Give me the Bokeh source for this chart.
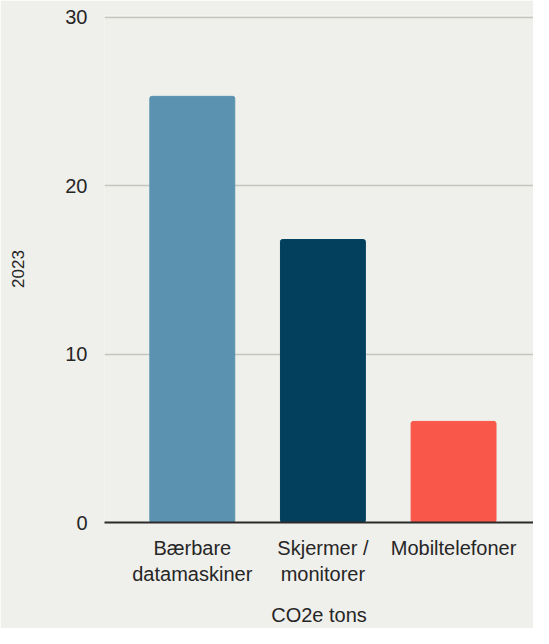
from bokeh.plotting import figure
from bokeh.embed import file_html
from bokeh.resources import INLINE
from bokeh.models import ColumnDataSource, FixedTicker, Range1d

categories = ["Bærbare\ndatamaskiner", "Skjermer /\nmonitorer", "Mobiltelefoner"]
values = [25.3, 16.8, 6.0]
colors = ["#5b92af", "#02405e", "#f8574a"]
y_ticks = [0, 10, 20, 30]
x_title = "CO2e tons"
y_title = "2023"

idx = list(range(len(categories)))
src = ColumnDataSource(dict(x=idx, top=values, color=colors))

FONT = "Liberation Sans"
BG = "#efefeb"

p = figure(width=533, height=628, output_backend="svg", toolbar_location=None,
           x_range=Range1d(-0.672, 2.612), y_range=Range1d(0, 30.1),
           min_border_left=104, min_border_right=0, min_border_top=15, min_border_bottom=5)
p.background_fill_color = BG
p.border_fill_color = BG
p.outline_line_color = None

p.vbar(x="x", top="top", width=0.65, color="color", source=src, border_radius=2)

# x axis
p.xaxis.ticker = FixedTicker(ticks=idx)
p.xaxis.major_label_overrides = {i: c for i, c in zip(idx, categories)}
p.xaxis.major_tick_line_color = None
p.xaxis.minor_tick_line_color = None
p.xaxis.axis_line_color = "#2b2b2b"
p.xaxis.axis_line_width = 2
p.xaxis.major_label_text_font = FONT
p.xaxis.major_label_text_font_size = "20px"
p.xaxis.major_label_text_color = "#262626"
p.xaxis.major_label_standoff = 8
p.xaxis.axis_label = x_title
p.xaxis.axis_label_text_font = FONT
p.xaxis.axis_label_text_font_size = "20px"
p.xaxis.axis_label_text_font_style = "normal"
p.xaxis.axis_label_text_color = "#262626"
p.xaxis.axis_label_standoff = 16

# y axis
p.yaxis.ticker = FixedTicker(ticks=y_ticks)
p.yaxis.major_tick_line_color = None
p.yaxis.minor_tick_line_color = None
p.yaxis.axis_line_color = None
p.yaxis.major_label_text_font = FONT
p.yaxis.major_label_text_font_size = "20px"
p.yaxis.major_label_text_color = "#262626"
p.yaxis.major_label_standoff = 11
p.yaxis.axis_label = y_title
p.yaxis.axis_label_text_font = FONT
p.yaxis.axis_label_text_font_size = "17px"
p.yaxis.axis_label_text_font_style = "normal"
p.yaxis.axis_label_text_color = "#262626"
p.yaxis.axis_label_standoff = 38

p.xgrid.grid_line_color = None
p.ygrid.grid_line_color = "#c6c6c0"
p.ygrid.grid_line_width = 1.5

open("out.html", "w").write(file_html(p, INLINE))
